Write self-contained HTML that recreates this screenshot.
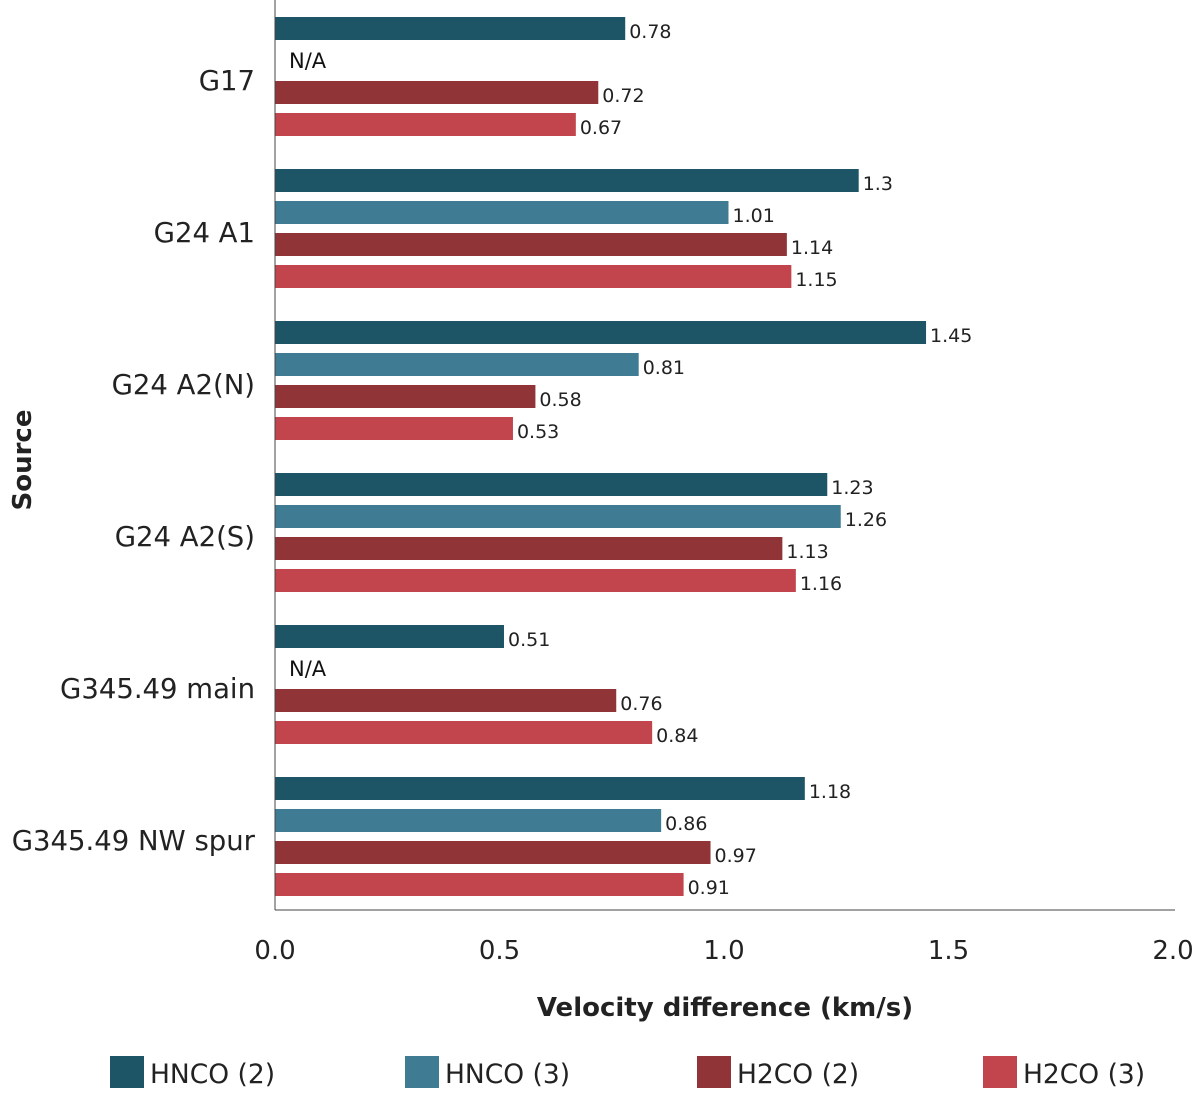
<!DOCTYPE html>
<html><head><meta charset="utf-8"><style>
body{margin:0;background:#fff;}
svg{display:block;font-family:"DejaVu Sans","Liberation Sans",sans-serif;}
</style></head><body>
<svg id="chart" width="1200" height="1098"></svg>
<script>
const categories=["G17","G24 A1","G24 A2(N)","G24 A2(S)","G345.49 main","G345.49 NW spur"];
const hnco2=[0.78,1.3,1.45,1.23,0.51,1.18];
const hnco3=[null,1.01,0.81,1.26,null,0.86];
const h2co2=[0.72,1.14,0.58,1.13,0.76,0.97];
const h2co3=[0.67,1.15,0.53,1.16,0.84,0.91];
const seriesNames=["HNCO (2)","HNCO (3)","H2CO (2)","H2CO (3)"];
const xTicks=[0,0.5,1.0,1.5,2.0];
const xTickLabels=["0.0","0.5","1.0","1.5","2.0"];

const colors=["#1e5566","#3f7b93","#903437","#c2444c"];
const series=[hnco2,hnco3,h2co2,h2co3];
const svg=document.getElementById('chart');
const NS="http://www.w3.org/2000/svg";
const x0=275, xScale=449;
const xPos=v=>x0+v*xScale;
const groupY=i=>17+i*152;
const barY=(i,s)=>groupY(i)+s*32;
function mk(tag,attrs,text){const e=document.createElementNS(NS,tag);for(const k in attrs)e.setAttribute(k,attrs[k]);if(text!==undefined)e.textContent=text;svg.appendChild(e);return e;}

categories.forEach((c,i)=>{
  const t=mk('text',{x:255,y:groupY(i)+73,'text-anchor':'end','font-size':27.5,fill:'#222'},c);
  
  
  series.forEach((arr,s)=>{
    const v=arr[i];
    if(v===null){
      const n=mk('text',{x:289,y:barY(i,s)+19,'font-size':21,fill:'#111'},'N/A');
      
      
      return;
    }
    const r=mk('rect',{x:x0,y:barY(i,s),width:v*xScale,height:23,fill:colors[s]});
    
    
    const l=mk('text',{x:xPos(v)+4,y:barY(i,s)+21,'font-size':19,fill:'#222'},String(v));
    
    
  });
});
const ya=mk('line',{x1:x0,y1:0,x2:x0,y2:910,stroke:'#444','stroke-width':1});


const xa=mk('line',{x1:x0,y1:910,x2:1175,y2:910,stroke:'#444','stroke-width':1});


xTicks.forEach((v,k)=>{
  const t=mk('text',{x:xPos(v),y:959,'text-anchor':'middle','font-size':26,fill:'#222'},xTickLabels[k]);
  
  
});
const xt=mk('text',{x:725,y:1016,'text-anchor':'middle','font-size':26,'font-weight':'bold',fill:'#222'},'Velocity difference (km/s)');


const yt=mk('text',{x:0,y:0,'text-anchor':'middle','font-size':26,'font-weight':'bold',fill:'#222',transform:'translate(31,460) rotate(-90)'},'Source');


const legX=[110,405,697,983];
seriesNames.forEach((n,s)=>{
  const r=mk('rect',{x:legX[s],y:1056,width:34,height:32,fill:colors[s]});
  
  
  const t=mk('text',{x:legX[s]+40,y:1083,'font-size':26.5,fill:'#222'},n);
  
  
});
</script>
</body></html>
